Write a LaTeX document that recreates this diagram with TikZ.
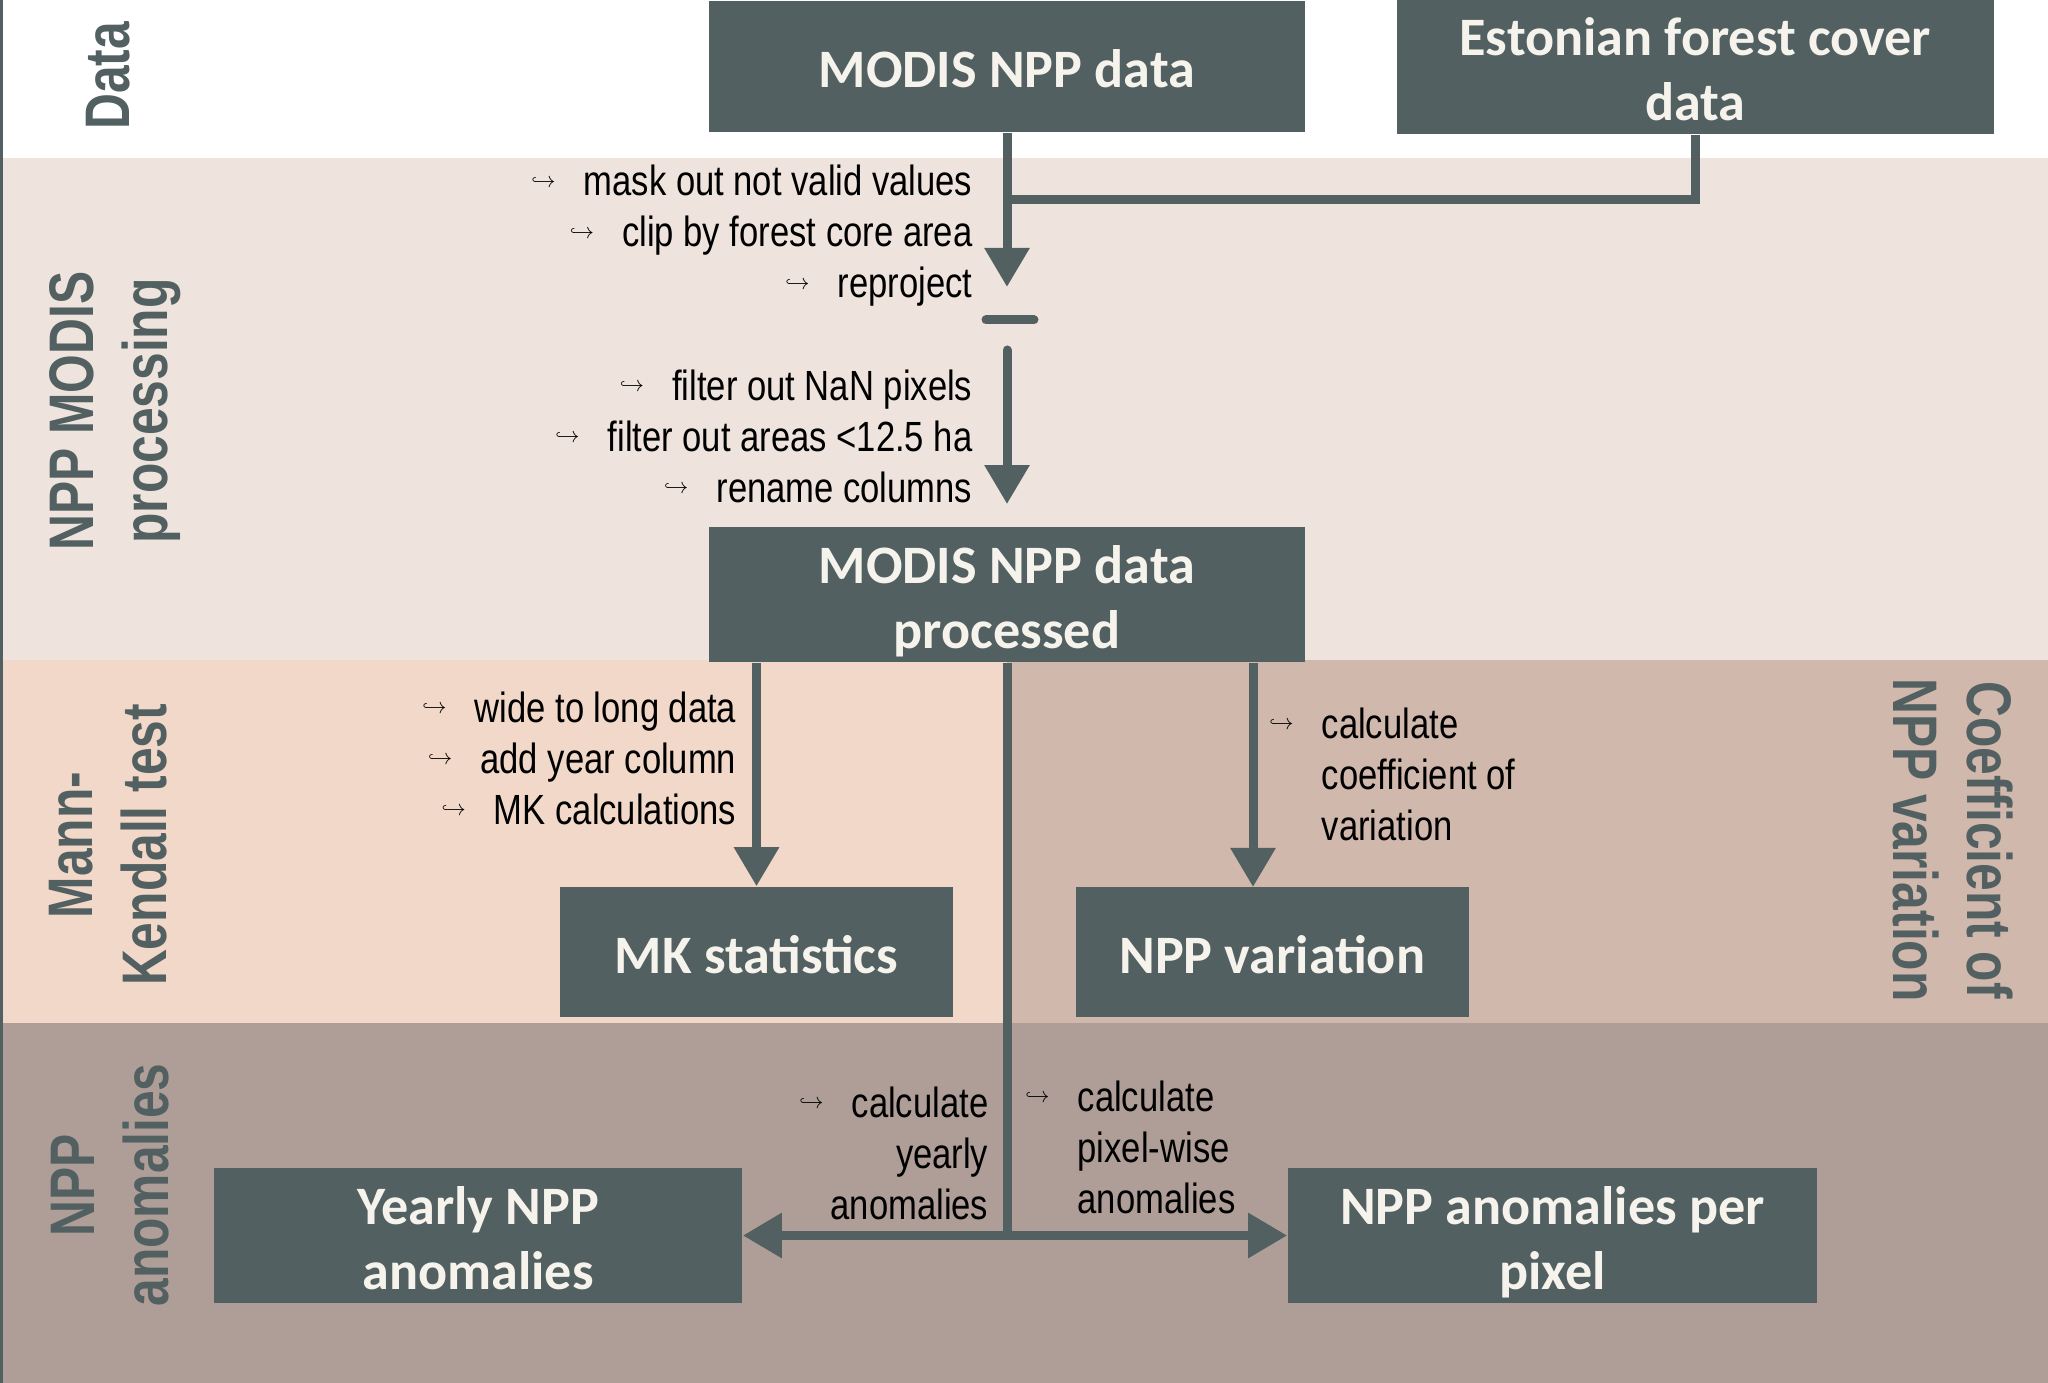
\documentclass[tikz,border=0pt]{standalone}
\usepackage{fontspec}
\setmainfont{Liberation Sans}
\newfontfamily\boxfont{Carlito}
\newfontfamily\narrowfont{Liberation Sans}[FakeStretch=0.82]
\newfontfamily\bandfont{Liberation Sans}[FakeStretch=0.79]
\usetikzlibrary{arrows.meta,positioning}

\definecolor{boxgrey}{HTML}{526061}
\definecolor{boxtext}{HTML}{F5F3EC}
\definecolor{bandproc}{HTML}{EFE4DD}
\definecolor{bandmk}{HTML}{F2D8C8}
\definecolor{bandcv}{HTML}{D1B8AC}
\definecolor{bandano}{HTML}{AF9E97}

\newcommand{\hk}{\raisebox{2.4pt}{\scalebox{0.52}{$\hookrightarrow$}}\hspace{8pt}}
%fixed line box for the box texts
\newcommand{\bxtop}{\rule{0pt}{16pt}}
\newcommand{\bxbot}{\rule[-4pt]{0pt}{4pt}}

\tikzset{
  stepbox/.style={fill=boxgrey, text=boxtext, inner sep=0pt, align=center,
    font=\boxfont\bfseries\fontsize{15.4}{18.5}\selectfont},
  band/.style={text=boxgrey, inner sep=0pt, align=center,
    font=\bandfont\bfseries\fontsize{17.9}{21}\selectfont},
  note/.style={inner sep=0pt, font=\narrowfont\fontsize{12}{14.5}\selectfont},
  link/.style={draw=boxgrey, line width=0.09cm},
}

\begin{document}
\begin{tikzpicture}[x=0.01cm, y=-0.01cm, >={Triangle[length=0.39cm,width=0.43cm]}]
\useasboundingbox (0,0) rectangle (2048,1383);
%bands
\foreach \c/\ya/\yb in {white/0/158, bandproc/158/660, bandano/1023/1383}
\fill[\c] (0,\ya) rectangle (2048,\yb);
\fill[bandmk] (0,660) rectangle (1007,1023);
\fill[bandcv] (1007,660) rectangle (2048,1023);
\draw[boxgrey, line width=0.03cm] (1.5,0) -- (1.5,1383);
%band labels
\node[band, rotate=90] (labdata) at (108,76) {Data};
\node[band, rotate=90] (labproc) at (115,411) {NPP MODIS\\processing};
\node[band, rotate=90] (labmk) at (108,845) {Mann-\\Kendall test};
\node[band, rotate=90] (labano) at (110,1185) {NPP\\anomalies};
\node[band, rotate=-90] (labcv) at (1953,840) {Coefficient of\\NPP variation};
%boxes
\node[stepbox, minimum width=5.96cm, minimum height=1.31cm] (modis) at (1007,66.5) {\bxtop MODIS NPP data\bxbot};
\node[stepbox, minimum width=5.97cm, minimum height=1.31cm, right=0.9cm of modis] (forest) {\bxtop Estonian forest cover\\data\bxbot};
\node[stepbox, minimum width=5.96cm, minimum height=1.31cm] (proc) at (1007,594.5) {\bxtop MODIS NPP data\\processed\bxbot};
\node[stepbox, minimum width=3.93cm, minimum height=1.30cm] (mk) at (756.5,952) {\bxtop MK statistics\bxbot};
\node[stepbox, minimum width=3.93cm, minimum height=1.30cm, right=1.21cm of mk] (var) {\bxtop NPP variation\bxbot};
\node[stepbox, minimum width=5.28cm, minimum height=1.31cm] (yearly) at (478,1235.5) {\bxtop Yearly NPP\\anomalies\bxbot};
\node[stepbox, minimum width=5.29cm, minimum height=1.31cm, right=5.44cm of yearly] (perpix) {\bxtop NPP anomalies per\\pixel\bxbot};
%arrows
\coordinate (join) at (1007,200);
\coordinate (tip1) at (1007,287);
\coordinate (barl) at (986,320);
\coordinate (barr) at (1034,320);
\coordinate (tail2) at (1007,350);
\coordinate (varin) at (1253,887);
\coordinate (split) at (proc.south |- yearly.east);
\draw[link] (forest.south) |- (join);
\draw[link,->] (modis.south) -- (tip1);
\draw[link, line cap=round] (barl) -- (barr);
\draw[link, line cap=round, ->, shorten >=0.22cm] (tail2) -- (proc.north);
\draw[link,->] (proc.south -| mk.north) -- (mk.north);
\draw[link,->] (proc.south -| varin) -- (varin);
\draw[link] (proc.south) -- (split);
\draw[link,->] (split) -- (yearly.east);
\draw[link,->] (split) -- (perpix.west);
%notes
\node[note, align=right, anchor=east] (mask) at (973,236) {\hk mask out not valid values\\\hk clip by forest core area\\\hk reproject};
\node[note, align=right, anchor=east] (filter) at (973,436) {\hk filter out NaN pixels\\\hk filter out areas <12.5 ha\\\hk rename columns};
\node[note, align=right, anchor=east] (mkcalc) at (737,758) {\hk wide to long data\\\hk add year column\\\hk MK calculations};
\node[note, align=left, anchor=west] (cvcalc) at (1321,774) {\leavevmode\llap{\hk}calculate\\coefficient of\\variation};
\node[note, align=right, anchor=east] (yearcalc) at (989,1153) {\hk calculate\\yearly\\anomalies};
\node[note, align=left, anchor=west] (pixcalc) at (1077,1147) {\leavevmode\llap{\hk}calculate\\pixel-wise\\anomalies};
\end{tikzpicture}
\end{document}
